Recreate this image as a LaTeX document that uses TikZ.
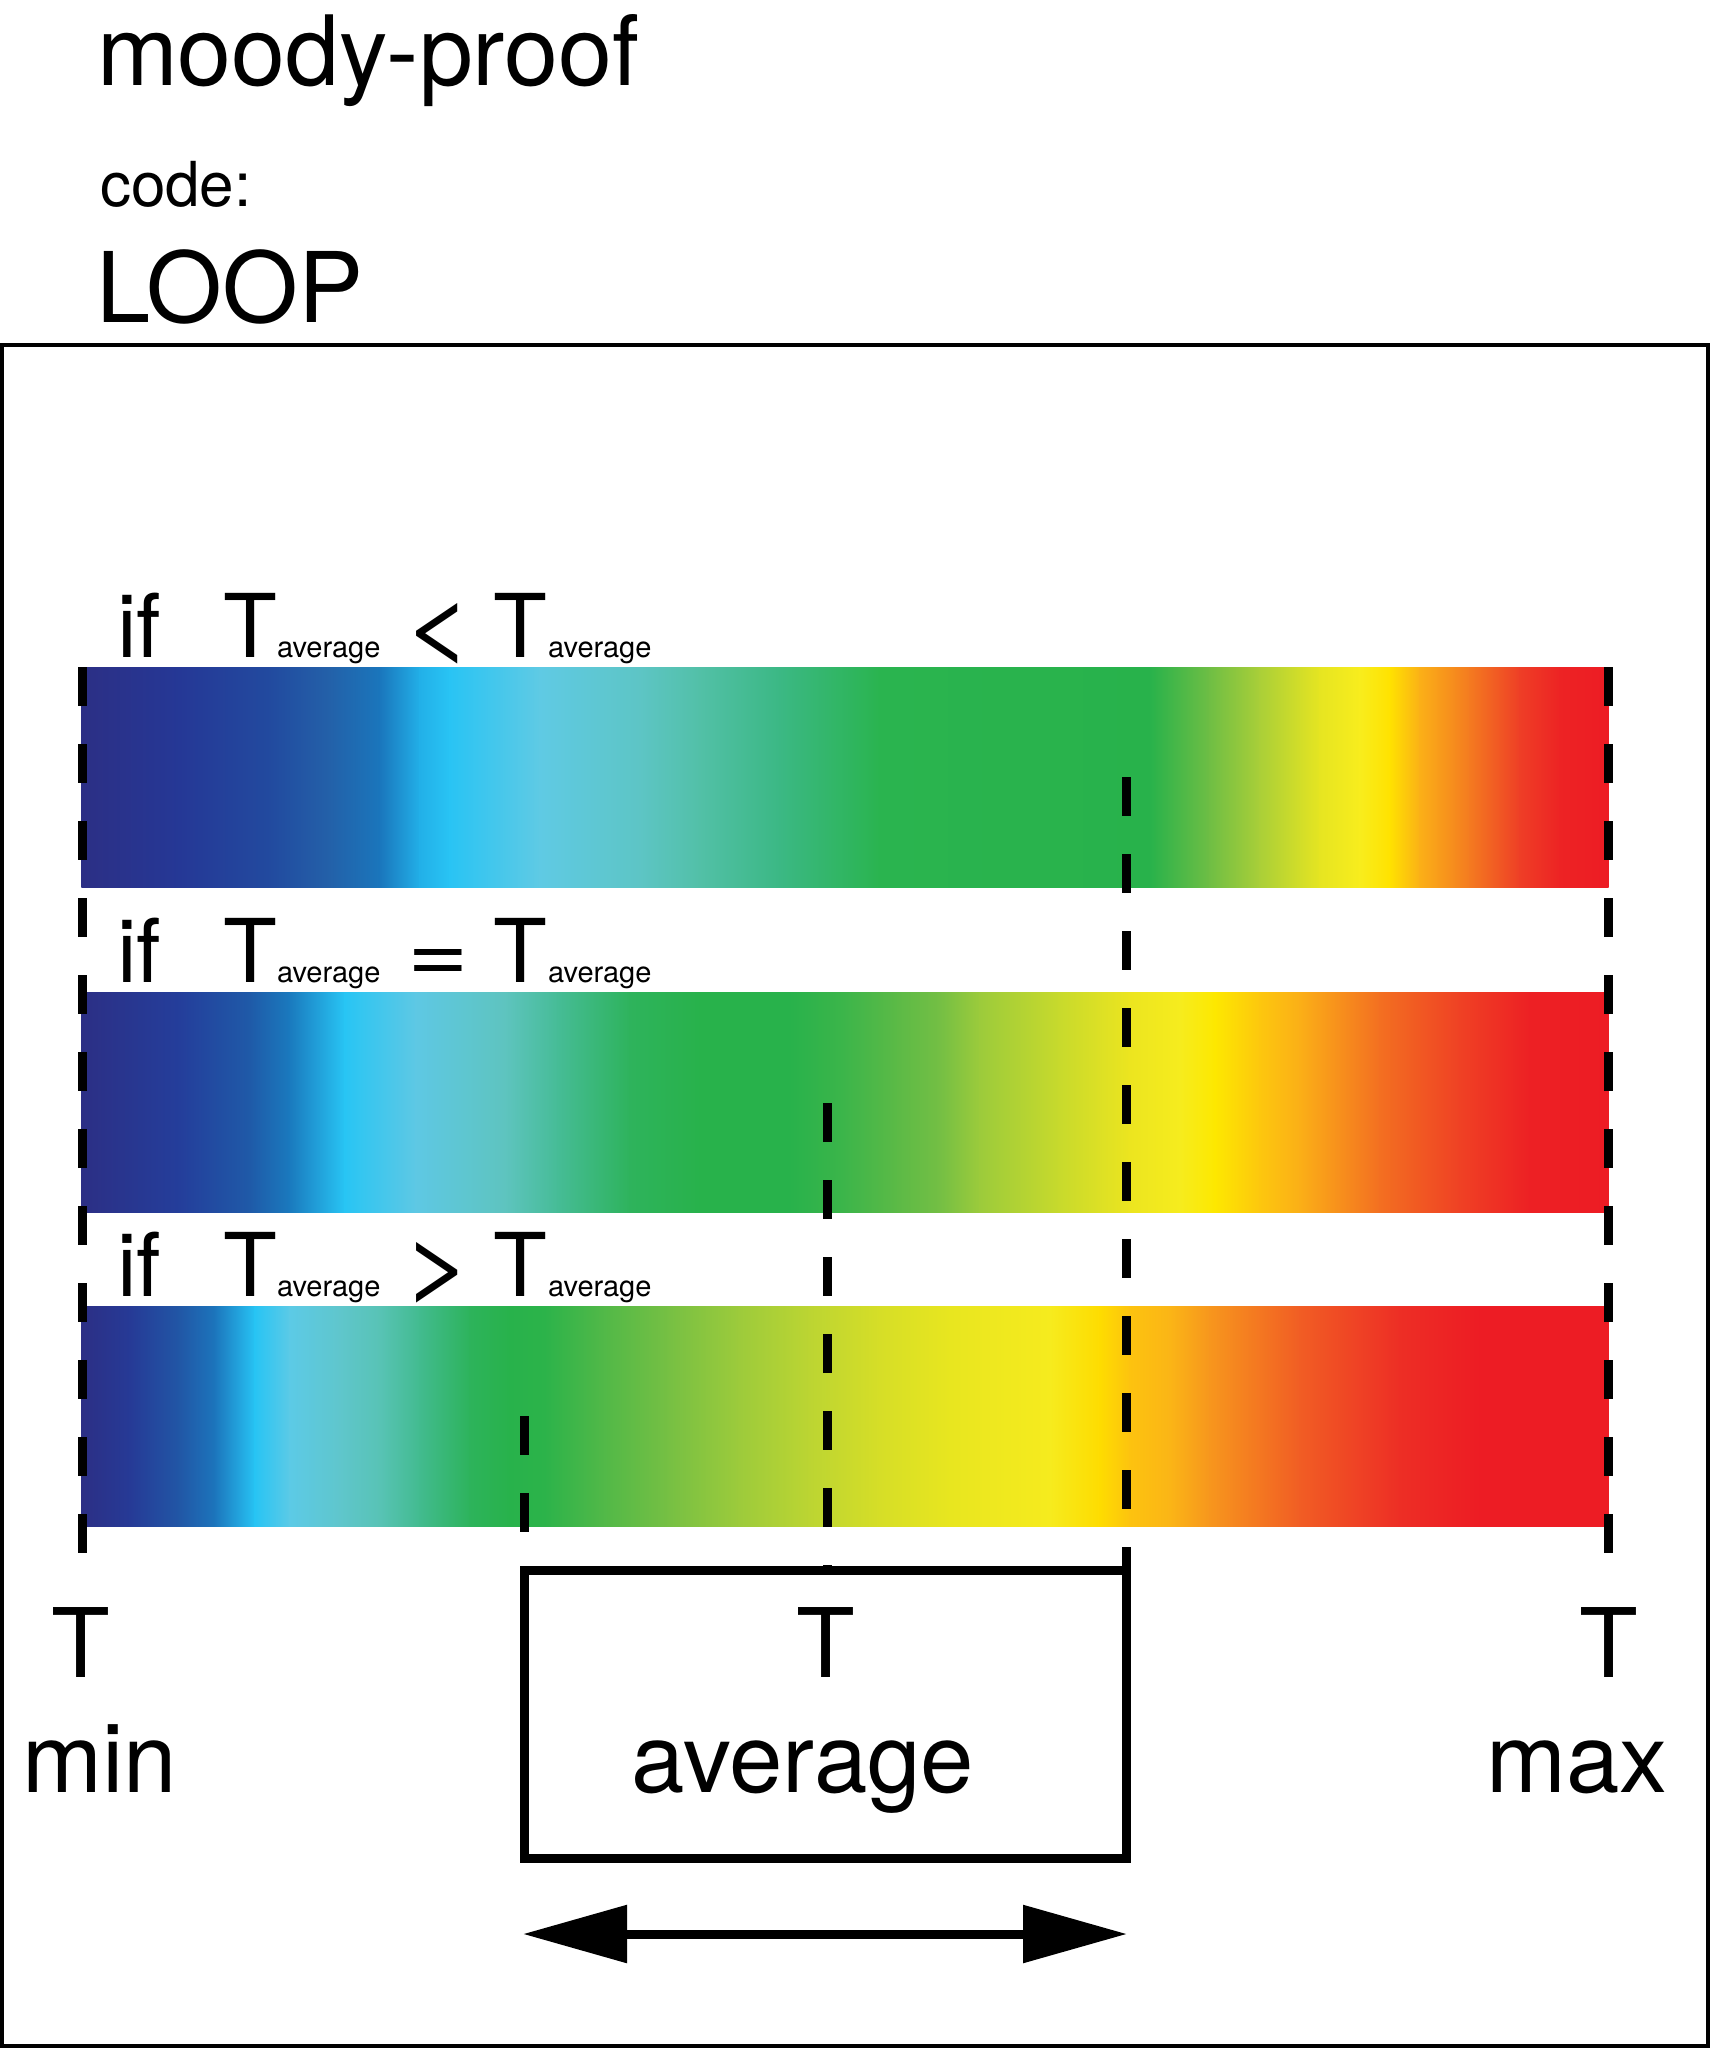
\documentclass[tikz,border=0pt]{standalone}
\usepackage{fontspec}
\setmainfont{TeX Gyre Heros}
\usetikzlibrary{arrows.meta}

\newcommand\fs[1]{\fontsize{#1}{#1}\selectfont}

\tikzset{
  txt/.style={inner sep=0pt, outer sep=0pt, anchor=base west},
  txtc/.style={inner sep=0pt, outer sep=0pt, anchor=base},
  dline/.style={line width=9pt, dash pattern=on 39pt off 38pt, line cap=butt},
  boxline/.style={line width=9pt},
}

% gradient bar: #1 top, #2 bottom, #3 first colour, #4 list x/colour
\newcommand\gradbar[4]{%
  \foreach \xx/\cc [remember=\xx as \lx (initially 82), remember=\cc as \lc (initially #3)] in {#4} {%
    \definecolor{gcA}{HTML}{\lc}\definecolor{gcB}{HTML}{\cc}%
    \shade[left color=gcA, right color=gcB] (\lx-0.6,#1) rectangle (\xx+0.6,#2);
  }%
}

% condition label
\newcommand\condlabel[3]{%
  \node[txt] (#1if) at (117,#2) {\fs{88}if};
  \node[txt] (#1Ta) at (223,#2) {\fs{88}T};
  \node[txt] (#1sa) at (277,#2) {\fs{29}average};
  \node[txtc] (#1rel) at (438,#2) {#3};
  \node[txt] (#1Tb) at (493,#2) {\fs{88}T};
  \node[txt] (#1sb) at (548,#2) {\fs{29}average};
}
\newcommand\relsym[1]{\scalebox{1.4}[1.08]{\fs{88}#1}}

\begin{document}
\begin{tikzpicture}[x=1pt, y=-1pt]
\useasboundingbox (0,0) rectangle (1710,2048);

% title texts
\node[txt] (title) at (97,85) {\fs{97}moody-proof};
\node[txt] (code) at (100,206) {\fs{62}code:};
\node[txt] (loop) at (96,322) {\fs{97.5}LOOP};

% frame
\draw[line width=4pt] (2,345) rectangle (1708,2046);

% bar 1 : T_avg < T_avg
\gradbar{667}{887}{2C2F85}{180/253896, 270/224A9F, 330/2361A9, 380/1A76BC, 420/22B0E8, 450/29C4F4, 540/5FCAE4, 640/5DC5C5, 700/52C0A7, 780/3BB884, 880/2AB44F, 1150/28B24B, 1210/6FBE44, 1260/AACF38, 1320/E6E521, 1360/F8ED1D, 1390/FFE200, 1420/FBB017, 1470/F47A20, 1520/EE3E26, 1560/ED2324, 1608/ED1C24}
% bar 2 : T_avg = T_avg
\gradbar{992}{1212}{2C2F85}{180/243E9B, 250/1F5AA8, 290/1A7ABE, 345/28C5F4, 416/5EC8E4, 505/5EC4BF, 558/46BC96, 630/2EB35C, 700/28B24B, 790/28B24B, 844/3CB54A, 898/5CBA46, 940/74BF44, 980/9CCB3B, 1060/C8DA2C, 1130/ECE51F, 1180/F6EC1E, 1215/FDE800, 1260/FDC70E, 1300/FBAF17, 1380/F36F21, 1460/EF4124, 1530/ED2024, 1608/ED1C24}
% bar 3 : T_avg > T_avg
\gradbar{1306}{1526}{2C2F85}{130/263A96, 180/2157A6, 215/1C75BC, 255/27C4F4, 290/5CCAE6, 340/5FC6CC, 380/58C3B5, 420/42BB8F, 470/2DB35B, 510/28B24B, 545/2CB34A, 600/4FB848, 670/77C043, 740/9DCB3B, 810/BCD532, 880/D6DE27, 950/E8E61F, 1050/F6EB1E, 1100/FEDC00, 1130/FDC30F, 1170/FBB516, 1210/F7961D, 1300/F15D24, 1400/ED2E25, 1480/ED1C24, 1608/ED1C24}

% condition labels
\condlabel{cA}{657}{\relsym{<}}
\condlabel{cB}{982}{\scalebox{1.2}[1.0]{\fs{88}=}}
\condlabel{cC}{1296}{\relsym{>}}

% named coordinates for the dashed markers
\coordinate (minTop) at (82,667);
\coordinate (minBot) at (82,1556);
\coordinate (maxTop) at (1608,667);
\coordinate (maxBot) at (1608,1556);
\coordinate (hiTop) at (1126,777);
\coordinate (midTop) at (827,1103);
\coordinate (loTop) at (524,1416);

% box for the average range
\node[draw, boxline, inner sep=0pt, outer sep=0pt, minimum width=602pt, minimum height=288pt] (avgbox) at (825,1714) {};

\draw[dline] (minTop) -- (minBot);
\draw[dline] (maxTop) -- (maxBot);
\draw[dline] (hiTop) -- (hiTop |- avgbox.north);
\draw[dline] (midTop) -- (midTop |- avgbox.north);
\draw[dline] (loTop) -- (loTop |- avgbox.north);

% bottom labels
\node[txtc] (tmin) at (81,1677) {\fs{96}T};
\node[txtc] (tavg) at (826,1677) {\fs{96}T};
\node[txtc] (tmax) at (1609,1677) {\fs{96}T};
\node[txtc] (lmin) at (100,1792) {\fs{96}min};
\node[txtc] (lavg) at (803,1792) {\fs{96}average};
\node[txtc] (lmax) at (1577,1792) {\fs{96}max};

% double arrow
\coordinate (arrL) at (523,1934);
\coordinate (arrR) at (1127,1934);
\draw[line width=9pt, {Triangle[length=104pt, width=56pt]}-{Triangle[length=104pt, width=56pt]}] (arrL) -- (arrR);
\end{tikzpicture}
\end{document}
